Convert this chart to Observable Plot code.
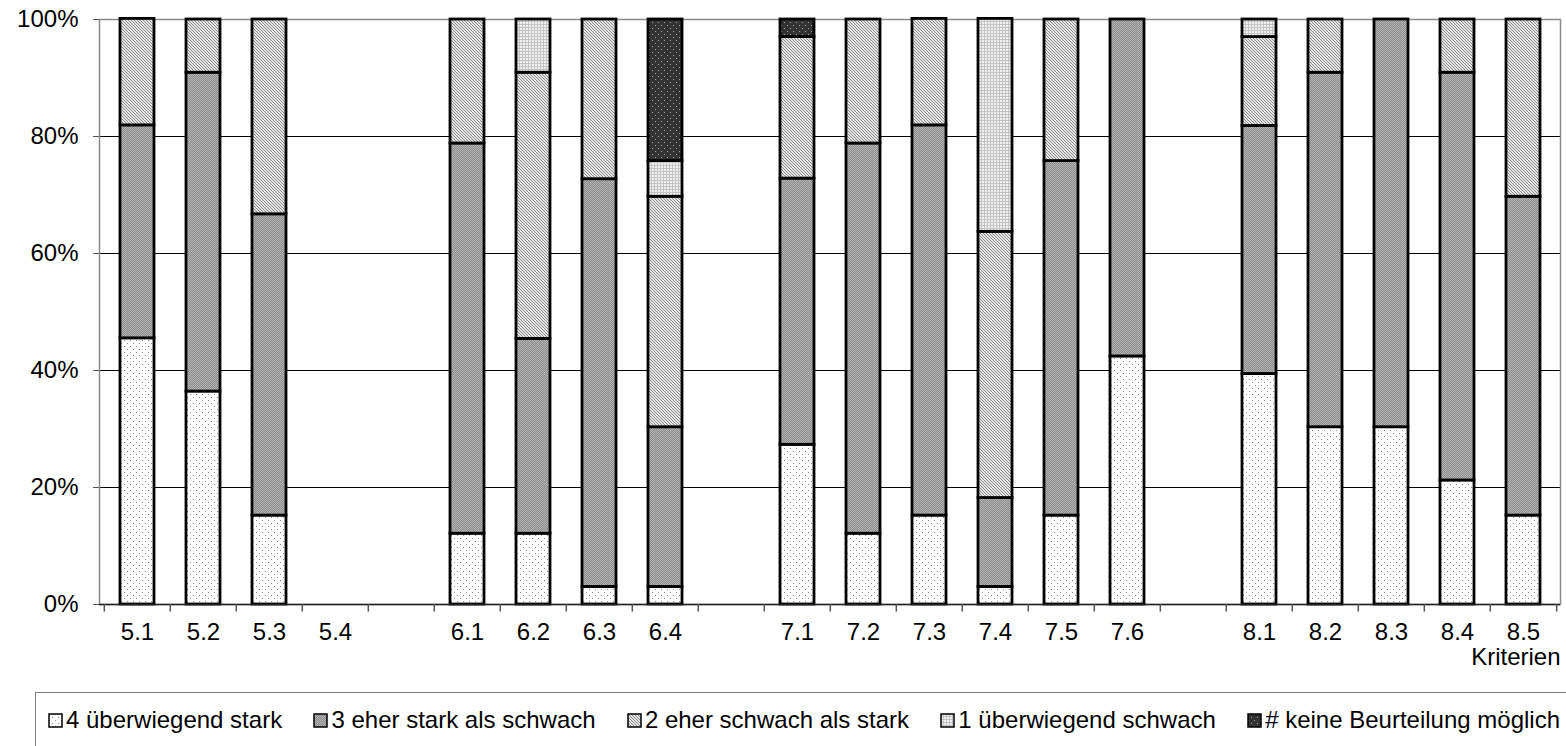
<!DOCTYPE html>
<html>
<head>
<meta charset="utf-8">
<script src="https://cdn.jsdelivr.net/npm/d3@7"></script>
<script src="https://cdn.jsdelivr.net/npm/@observablehq/plot@0.6"></script>
<style>
  html, body { margin: 0; padding: 0; background: #fff; }
  body { width: 1566px; height: 746px; overflow: hidden; position: relative; font-family: "Liberation Sans", Arial, sans-serif; }
  #chart { position: absolute; left: 0; top: 0; }
  #legend { position: absolute; left: 35px; top: 692px; width: 1560px; height: 80px; border: 1.5px solid #808080; box-sizing: border-box; }
  #legend .items { position: absolute; left: 12px; width: 1512px; top: 13px; display: flex; justify-content: space-between; font-size: 24px; color: #000; }
  #legend .item { display: flex; align-items: center; white-space: nowrap; }
  #legend svg { margin-right: 3px; }
</style>
</head>
<body>
<svg width="0" height="0" style="position:absolute">
  <defs>
    <pattern id="p4" patternUnits="userSpaceOnUse" width="6" height="6">
      <rect width="6" height="6" fill="#fff"/>
      <rect x="1" y="1" width="1" height="1" fill="#8a8a8a"/>
      <rect x="4" y="4" width="1" height="1" fill="#8a8a8a"/>
    </pattern>
    <pattern id="p3" patternUnits="userSpaceOnUse" width="2" height="2">
      <rect width="2" height="2" fill="#8c8c8c"/>
      <rect x="0" y="0" width="1" height="1" fill="#b4b4b4"/>
      <rect x="1" y="1" width="1" height="1" fill="#b4b4b4"/>
    </pattern>
    <pattern id="p2" patternUnits="userSpaceOnUse" width="3" height="3">
      <rect width="3" height="3" fill="#e4e4e4"/>
      <rect x="0" y="0" width="1" height="1" fill="#8c8c8c"/>
      <rect x="1" y="1" width="1" height="1" fill="#8c8c8c"/>
      <rect x="2" y="2" width="1" height="1" fill="#8c8c8c"/>
    </pattern>
    <pattern id="p1" patternUnits="userSpaceOnUse" width="3" height="3">
      <rect width="3" height="3" fill="#f0f0f0"/>
      <rect x="0" y="0" width="3" height="1" fill="#c4c4c4"/>
      <rect x="0" y="0" width="1" height="3" fill="#c4c4c4"/>
    </pattern>
    <pattern id="pK" patternUnits="userSpaceOnUse" width="6" height="6">
      <rect width="6" height="6" fill="#333333"/>
      <rect x="1" y="1" width="1" height="1" fill="#a0a0a0"/>
      <rect x="4" y="4" width="1" height="1" fill="#a0a0a0"/>
    </pattern>
  </defs>
</svg>
<div id="chart"></div>
<div id="legend"><div class="items" id="legendItems"></div></div>
<script>
// ---- data ----
const slots = ["5.1","5.2","5.3","5.4"," ","6.1","6.2","6.3","6.4","  ","7.1","7.2","7.3","7.4","7.5","7.6","   ","8.1","8.2","8.3","8.4","8.5"];
const categories = ["5.1","5.2","5.3","5.4","6.1","6.2","6.3","6.4","7.1","7.2","7.3","7.4","7.5","7.6","8.1","8.2","8.3","8.4","8.5"];
const seriesNames = ["4 überwiegend stark","3 eher stark als schwach","2 eher schwach als stark","1 überwiegend schwach","# keine Beurteilung möglich"];
const s4 = [45.5,36.4,15.2,0, 12.1,12.1,3.0,3.0, 27.3,12.1,15.2,3.0,15.2,42.4, 39.4,30.3,30.3,21.2,15.2];
const s3 = [36.4,54.5,51.5,0, 66.7,33.3,69.7,27.3, 45.5,66.7,66.7,15.2,60.6,57.6, 42.4,60.6,69.7,69.7,54.5];
const s2 = [18.2,9.1,33.3,0, 21.2,45.5,27.3,39.4, 24.2,21.2,18.2,45.5,24.2,0, 15.2,9.1,0,9.1,30.3];
const s1 = [0,0,0,0, 0,9.1,0,6.1, 0,0,0,36.4,0,0, 3.0,0,0,0,0];
const sK = [0,0,0,0, 0,0,0,24.2, 3.0,0,0,0,0,0, 0,0,0,0,0];
const yTicks = [0,20,40,60,80,100];
const gridTicks = [20,40,60,80];
const patterns = ["url(#p4)","url(#p3)","url(#p2)","url(#p1)","url(#pK)"];

// ---- build table ----
const seriesValues = [s4,s3,s2,s1,sK];
const rows = [];
categories.forEach((c, i) => {
  seriesNames.forEach((s, j) => {
    const v = seriesValues[j][i];
    if (v > 0) rows.push({cat: c, series: s, value: v});
  });
});

const W = 1566, H = 680, mL = 99, mR = 6, mT = 19, mB = 76;
const step = (W - mL - mR) / slots.length;

const chart = Plot.plot({
  width: W, height: H,
  marginLeft: mL, marginRight: mR, marginTop: mT, marginBottom: mB,
  style: {fontFamily: "'Liberation Sans', Arial, sans-serif", fontSize: "24px", color: "#000", background: "#fff"},
  x: {domain: slots, type: "band", paddingInner: 0.49, paddingOuter: 0.245, label: null},
  y: {domain: [0, 100], label: null},
  color: {domain: seriesNames, range: patterns},
  marks: [
    Plot.ruleY(gridTicks, {stroke: "#000", strokeWidth: 1}),
    Plot.frame({stroke: "#8a8a8a", strokeWidth: 1.5}),
    Plot.barY(rows, {x: "cat", y: "value", fill: "series", stroke: "#000", strokeWidth: 2.8, order: seriesNames}),
    Plot.ruleY([0], {stroke: "#222", strokeWidth: 1.5}),
    Plot.ruleX(slots, {x: d => d, dx: -step / 2, y1: 0, y2: -1.3, stroke: "#555", strokeWidth: 1.5}),
    Plot.ruleX([slots[slots.length - 1]], {x: d => d, dx: step / 2, y1: 0, y2: -1.3, stroke: "#555", strokeWidth: 1.5}),
    Plot.axisY(yTicks, {tickFormat: d => d + "%", tickSize: 6, tickPadding: 15, fontSize: 24, stroke: "#555"}),
    Plot.axisX({tickSize: 0, tickPadding: 18, fontSize: 24, tickFormat: d => d.trim()}),
    Plot.text(["Kriterien"], {frameAnchor: "bottom-right", dy: 60, dx: 0, textAnchor: "end", fontSize: 24})
  ]
});
document.getElementById("chart").appendChild(chart);

// ---- legend ----
const legendItems = document.getElementById("legendItems");
seriesNames.forEach((s, j) => {
  const item = document.createElement("div");
  item.className = "item";
  item.innerHTML = `<svg width="15" height="15"><rect x="1" y="1" width="13" height="13" fill="${patterns[j]}" stroke="#000" stroke-width="1.5"/></svg><span>${s}</span>`;
  legendItems.appendChild(item);
});
</script>
</body>
</html>
